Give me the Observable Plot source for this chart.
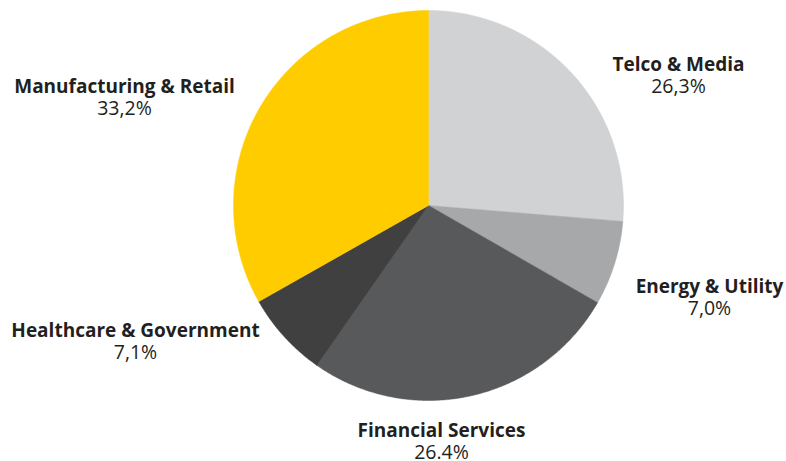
<!DOCTYPE html>
<html>
<head>
<meta charset="utf-8">
<script src="https://cdn.jsdelivr.net/npm/d3@7"></script>
<script src="https://cdn.jsdelivr.net/npm/@observablehq/plot@0.6"></script>
<style>
  html, body { margin: 0; padding: 0; background: #ffffff; }
  #chart svg { display: block; }
</style>
</head>
<body>
<div id="chart"></div>
<script>
// Data
const categories = ["Telco & Media", "Energy & Utility", "Financial Services", "Healthcare & Government", "Manufacturing & Retail"];
const shares = [26.3, 7.0, 26.4, 7.1, 33.2];
const shareLabels = ["26,3%", "7,0%", "26.4%", "7,1%", "33,2%"];
const colors = ["#d1d2d4", "#a7a8aa", "#58595b", "#404041", "#ffcc00"];

// Layout
const W = 786, H = 461;
const cx = 428, cy = 205, r = 195;
const labelX = [678, 709, 441, 135, 124];
const labelY = [64, 286, 430, 330, 86];

const arcs = d3.pie().sort(null).value(d => d)(shares);
const pts = [];
arcs.forEach((a, i) => {
  const n = Math.max(8, Math.ceil((a.endAngle - a.startAngle) * 120));
  pts.push({k: categories[i], px: cx, py: cy});
  for (let j = 0; j <= n; j++) {
    const t = a.startAngle + (a.endAngle - a.startAngle) * j / n;
    pts.push({k: categories[i], px: cx + r * Math.sin(t), py: cy - r * Math.cos(t)});
  }
  pts.push({k: categories[i], px: cx, py: cy});
});

const labels = categories.map((c, i) => ({
  name: c,
  pct: shareLabels[i],
  lx: labelX[i], ly: labelY[i]
}));

const chart = Plot.plot({
  width: W, height: H,
  margin: 0,
  x: {domain: [0, W], range: [0, W], axis: null},
  y: {domain: [0, H], range: [0, H], axis: null},
  color: {domain: categories, range: colors},
  style: {fontFamily: "'Open Sans', sans-serif", background: "#ffffff"},
  marks: [
    Plot.line(pts, {x: "px", y: "py", z: "k", fill: "k", stroke: "k", strokeWidth: 0.5, curve: "linear"}),
    Plot.text(labels, {x: "lx", y: "ly", text: "name", fontSize: 19, fontWeight: "bold", fill: "#231f20", textAnchor: "middle", lineAnchor: "middle", dy: 0}),
    Plot.text(labels, {x: "lx", y: "ly", text: "pct", fontSize: 19.5, fill: "#231f20", textAnchor: "middle", lineAnchor: "middle", dy: 22})
  ]
});
document.getElementById("chart").appendChild(chart);
</script>
</body>
</html>
